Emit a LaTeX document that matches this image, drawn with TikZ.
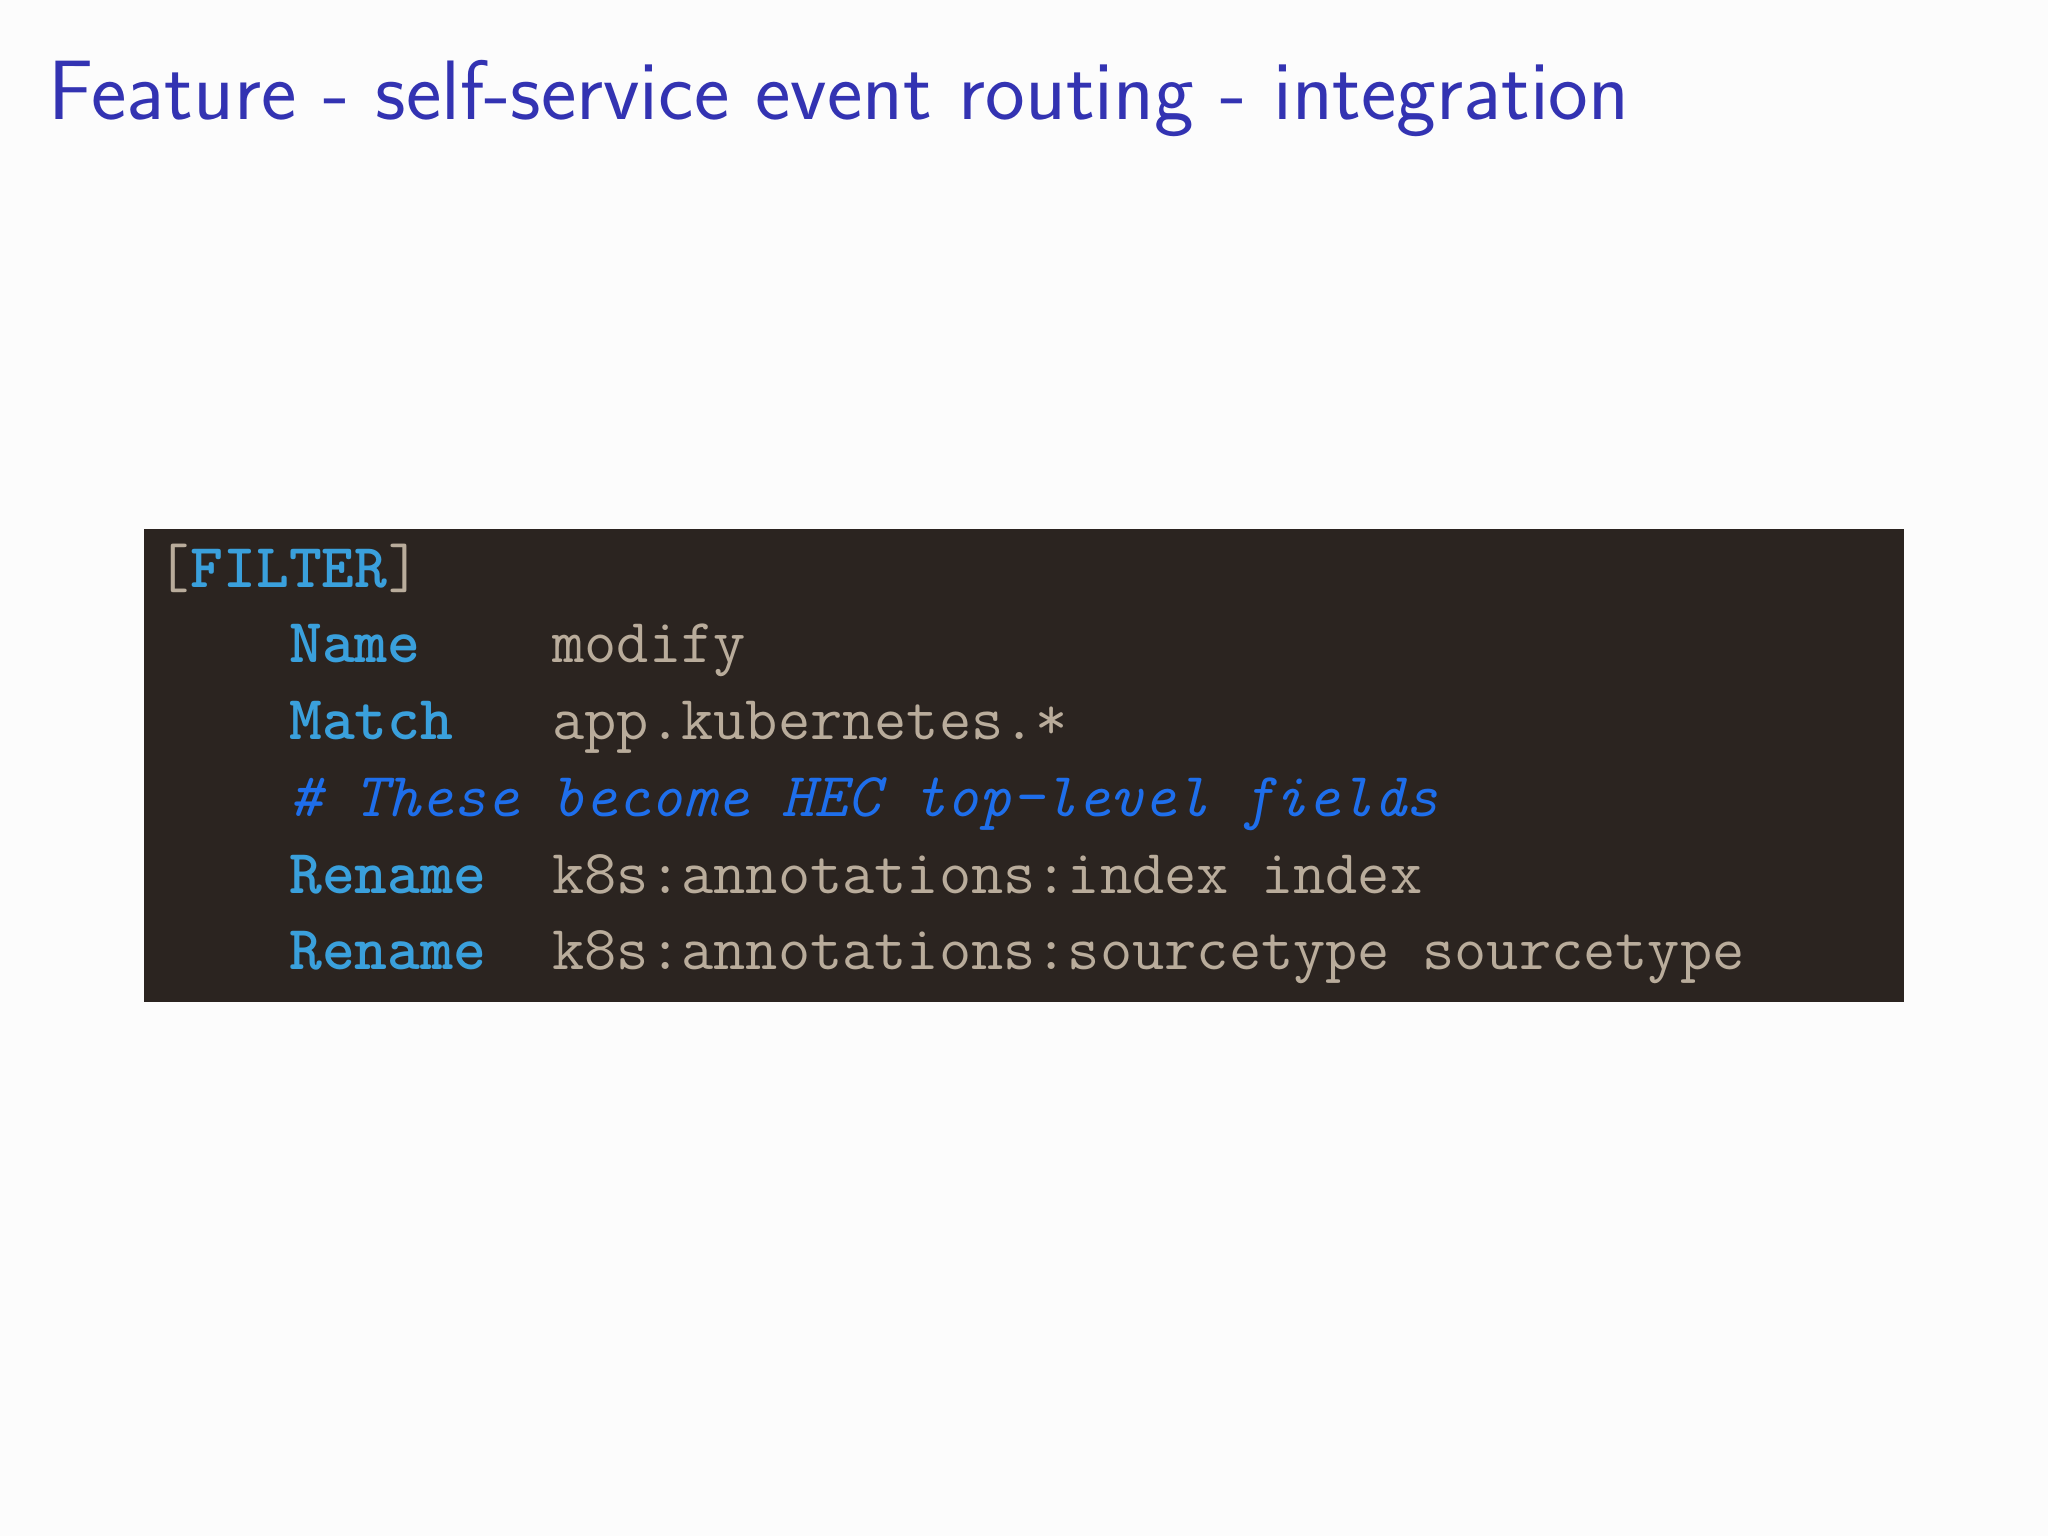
\documentclass[tikz,border=0pt]{standalone}
\definecolor{titleblue}{RGB}{51,51,178}
\definecolor{codebg}{RGB}{43,36,32}
\definecolor{kw}{RGB}{58,160,220}
\definecolor{txt}{RGB}{185,172,155}
\definecolor{cmt}{RGB}{30,110,235}
\tikzset{
  code/.style={anchor=base west,inner sep=0pt,font=\ttfamily\fontsize{17.8}{20}\selectfont,text=txt},
  key/.style={code,font=\ttfamily\bfseries\fontsize{17.8}{20}\selectfont,text=kw},
  com/.style={code,font=\ttfamily\itshape\fontsize{17.8}{20}\selectfont,text=cmt}
}
\begin{document}
\begin{tikzpicture}[x=1cm,y=-1cm]
\fill[white!99!black] (0,0) rectangle (20.48,15.36);
\useasboundingbox (0,0) rectangle (20.48,15.36);
\node[anchor=base west,inner sep=0pt,text=titleblue,font=\sffamily\fontsize{24}{28}\selectfont] (title) at (0.48,1.2) {Feature - self-service event routing - integration};
\fill[codebg] (1.44,5.29) rectangle (19.04,10.02);
\def\cw{0.329}
\def\xa{1.57}
\node[code] (b1) at (\xa,5.88) {[};
\node[key] (f) at (\xa+\cw,5.88) {FILTER};
\node[code] (b2) at (\xa+7*\cw,5.88) {]};
\node[key] (k1) at (\xa+4*\cw,6.63) {Name};
\node[code] (v1) at (\xa+12*\cw,6.63) {modify};
\node[key] (k2) at (\xa+4*\cw,7.40) {Match};
\node[code] (v2) at (\xa+12*\cw,7.40) {app.kubernetes.*};
\node[com] (c) at (\xa+4*\cw,8.16) {\#~These~become~HEC~top-level~fields};
\node[key] (k3) at (\xa+4*\cw,8.93) {Rename};
\node[code] (v3) at (\xa+12*\cw,8.93) {k8s:annotations:index~index};
\node[key] (k4) at (\xa+4*\cw,9.69) {Rename};
\node[code] (v4) at (\xa+12*\cw,9.69) {k8s:annotations:sourcetype~sourcetype};
\end{tikzpicture}
\end{document}
